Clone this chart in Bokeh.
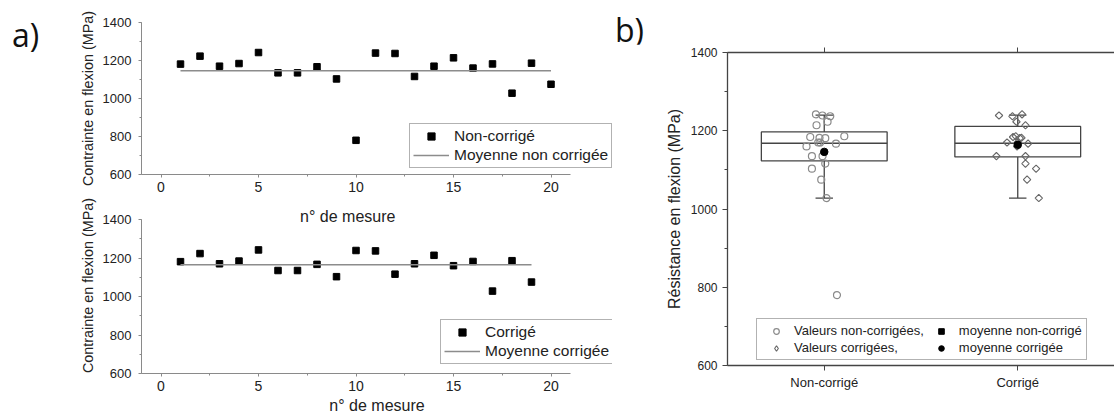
from bokeh.plotting import figure
from bokeh.models import (Label, Legend, LegendItem, LinearAxis, SingleIntervalTicker,
                          FixedTicker, Range1d, Div)
from bokeh.layouts import row, column
from bokeh.embed import file_html
from bokeh.resources import INLINE

FONT = "Liberation Sans"
TXT = "#222222"

# ---------------- data ----------------
mesure_nc = list(range(1, 21))
contrainte_nc = [1181, 1223, 1170, 1184, 1242, 1135, 1135, 1167, 1103, 780,
                 1239, 1237, 1116, 1170, 1214, 1160, 1182, 1028, 1186, 1075]
moyenne_nc = 1146

mesure_c = list(range(1, 20))
contrainte_c = [1181, 1223, 1170, 1184, 1242, 1135, 1135, 1167, 1103,
                1239, 1237, 1116, 1170, 1214, 1160, 1182, 1028, 1186, 1075]
moyenne_c = 1165

categories = ["Non-corrigé", "Corrigé"]
q1 = [1123, 1133]
mediane = [1168, 1168]
q3 = [1197, 1211]
moust_bas = [1028, 1028]
moust_haut = [1240, 1240]
moyennes = [1146, 1164]

# horizontal scatter offsets of the points in panel b (pixels)
jitter_nc = [1, 3.3, -6, -14, -8.3, -12.3, -1.7, 11.7, -12.3, 12.7,
             -1.7, 6, 1, -4, -7.7, -17.7, -4.7, 2.3, 20, -3]
jitter_c = [2, -1.3, -10.7, -4.7, 4.3, -21.3, 7.7, 10.3, 18.3,
            -18.7, -5.3, 7.7, 0, 7.7, -0.7, 3.7, 21, -2, 9.3]
PX_PER_CAT = 193.0

# ---------------- layout geometry (pixels) ----------------
DIV_W = 50
LEFT_W = 562            # left figures canvas width (x 50..612)
FRAME_L = 91            # left border -> frame left at x=141
PX_PER_X = 19.5         # pixels per measurement number
X_END = 21 + (LEFT_W - FRAME_L - 22 * PX_PER_X) / PX_PER_X
B_DIV_H = 44            # height of the "b)" strip above panel b


def style_axis(ax, line="#8a8a8a", tick_size="13px"):
    ax.axis_line_color = line
    ax.major_tick_line_color = line
    ax.minor_tick_line_color = line
    ax.major_tick_out = 3
    ax.major_tick_in = 0
    ax.minor_tick_out = 2
    ax.minor_tick_in = 0
    ax.major_label_text_font = FONT
    ax.major_label_text_font_size = tick_size
    ax.major_label_text_color = TXT
    ax.axis_label_text_font = FONT
    ax.axis_label_text_font_style = "normal"
    ax.axis_label_text_color = TXT


def left_panel(xs, ys, mean, lab_pts, lab_mean, height, bt, bb, y_end, leg_loc, xlabel):
    p = figure(width=LEFT_W, height=height, x_range=Range1d(-1, X_END),
               y_range=Range1d(600, y_end),
               output_backend="svg", toolbar_location=None,
               min_border_left=FRAME_L, min_border_right=0,
               min_border_top=bt, min_border_bottom=bb)
    p.grid.visible = False
    p.outline_line_color = None
    p.xaxis.ticker = SingleIntervalTicker(interval=5, num_minor_ticks=2)
    p.yaxis.ticker = SingleIntervalTicker(interval=200, num_minor_ticks=2)
    p.xaxis.bounds = (-1, 21)
    p.yaxis.bounds = (600, 1400)
    style_axis(p.xaxis[0], tick_size="14px")
    style_axis(p.yaxis[0], tick_size="13px")
    p.xaxis.major_label_standoff = 4
    p.yaxis.major_label_standoff = 7
    p.yaxis.axis_label = "Contrainte en flexion (MPa)"
    p.yaxis.axis_label_text_font_size = "14.4px"
    p.yaxis.axis_label_standoff = 4
    if xlabel:
        p.xaxis.axis_label = xlabel
        p.xaxis.axis_label_text_font_size = "16px"
        p.xaxis.axis_label_standoff = 3
    r_pts = p.scatter(xs, ys, marker="square", size=6.5, color="black")
    r_mean = p.line([xs[0], xs[-1]], [mean, mean], line_color="#8c8c8c", line_width=1.3)
    leg = Legend(items=[LegendItem(label=lab_pts, renderers=[r_pts]),
                        LegendItem(label=lab_mean, renderers=[r_mean])],
                 location=leg_loc, padding=3, spacing=1, margin=0,
                 glyph_width=36, glyph_height=18, label_height=18, label_standoff=5,
                 label_text_font=FONT, label_text_font_size="15.5px", label_text_color=TXT,
                 border_line_color="#666666", border_line_width=1,
                 background_fill_color="white", background_fill_alpha=1)
    p.add_layout(leg)
    return p


# top panel: canvas y 0..197, frame y 22..174
top = left_panel(mesure_nc, contrainte_nc, moyenne_nc, "Non-corrigé", "Moyenne non corrigée",
                 197, 22, 23, 1400, (268, 6), None)

# bottom panel: canvas y 197..419, axis 600..1400 on y 373..219, frame reaches canvas top
Y_END_B = 1400 + (219 - 197) * 800 / 154
bottom = left_panel(mesure_c, contrainte_c, moyenne_c, "Corrigé", "Moyenne corrigée",
                    222, 0, 46, Y_END_B, (299, 9), "n° de mesure")
# x-axis title of the top panel (falls inside the bottom canvas)
bottom.add_layout(Label(x=(LEFT_W - FRAME_L) / 2 - 1.5 * PX_PER_X, y=157,
                        x_units="screen", y_units="screen", text="n° de mesure",
                        text_font=FONT, text_font_size="16px", text_color=TXT,
                        text_align="center", text_baseline="alphabetic"))

div_a = Div(text='<div style="font-family:\'Open Sans\';font-size:32px;line-height:32px;'
                 'padding:19px 0 0 12px;color:#111111;">a)</div>',
            width=DIV_W, height=419, margin=0)
div_b = Div(text='<div style="font-family:\'Open Sans\';font-size:32px;line-height:32px;'
                 'padding:14px 0 0 3px;color:#111111;">b)</div>',
            width=502, height=B_DIV_H, margin=0, styles={"overflow": "visible"})

# ---------------- panel b ----------------
pos = [i + 1 for i in range(len(categories))]
half = 0.325
cap = 0.045
rb = figure(width=502, height=419 - B_DIV_H, x_range=Range1d(0.5, 2.5),
            y_range=Range1d(600, 1400),
            output_backend="svg", toolbar_location=None,
            min_border_left=115, min_border_right=0, min_border_top=52 - B_DIV_H,
            min_border_bottom=54)
rb.grid.visible = False
rb.outline_line_color = None
rb.xaxis.ticker = FixedTicker(ticks=pos)
rb.xaxis.major_label_overrides = {p_: c for p_, c in zip(pos, categories)}
rb.yaxis.ticker = SingleIntervalTicker(interval=200, num_minor_ticks=2)
style_axis(rb.xaxis[0], line="#444444", tick_size="13px")
style_axis(rb.yaxis[0], line="#444444", tick_size="12px")
for ax in (rb.xaxis[0], rb.yaxis[0]):
    ax.major_tick_out = 5
    ax.minor_tick_out = 3
    ax.axis_line_width = 1.3
rb.xaxis.major_label_standoff = 4
rb.yaxis.major_label_standoff = 5
rb.yaxis.axis_label = "Résistance en flexion (MPa)"
rb.yaxis.axis_label_text_font_size = "16px"
rb.yaxis.axis_label_standoff = 5

top_ax = LinearAxis(ticker=FixedTicker(ticks=pos), major_label_overrides={1: "", 2: ""},
                    axis_line_color="#444444", axis_line_width=1.3, major_label_standoff=0,
                    major_tick_line_color="#444444", major_tick_out=5, major_tick_in=0)
rb.add_layout(top_ax, "above")

BOX = "#444444"
rb.quad(left=[x - half for x in pos], right=[x + half for x in pos], bottom=q1, top=q3,
        fill_color=None, line_color=BOX, line_width=1.3)
rb.segment(x0=[x - half for x in pos], x1=[x + half for x in pos], y0=mediane, y1=mediane,
           line_color=BOX, line_width=1.3)
rb.segment(x0=pos, x1=pos, y0=q1, y1=moust_bas, line_color=BOX, line_width=1.3)
rb.segment(x0=pos, x1=pos, y0=q3, y1=moust_haut, line_color=BOX, line_width=1.3)
rb.segment(x0=[x - cap for x in pos], x1=[x + cap for x in pos], y0=moust_bas, y1=moust_bas,
           line_color=BOX, line_width=1.3)
rb.segment(x0=[x - cap for x in pos], x1=[x + cap for x in pos], y0=moust_haut, y1=moust_haut,
           line_color=BOX, line_width=1.3)

xs_nc = [pos[0] + j / PX_PER_CAT for j in jitter_nc]
xs_c = [pos[1] + j / PX_PER_CAT for j in jitter_c]
r_nc = rb.scatter(xs_nc, contrainte_nc, marker="circle",
                  size=7, fill_color=None, line_color="#8a8a8a", line_width=1.2)
rb.scatter(xs_c, contrainte_c, marker="square", angle=0.785398, size=5.2,
           fill_color=None, line_color="#666666", line_width=1.1)
rb.scatter([pos[0]], [moyennes[0]], marker="circle", size=7.5, color="black")
rb.scatter([pos[1]], [moyennes[1]], marker="circle", size=7.5, color="black")
# zero-size twins that only provide the legend symbols
lg_c = rb.scatter(xs_c[:1], contrainte_c[:1], marker="diamond", size=0,
                  fill_color=None, line_color="#666666", line_width=1.1)
lg_m_nc = rb.scatter([pos[0]], [moyennes[0]], marker="square", size=0, color="black")
lg_m_c = rb.scatter([pos[1]], [moyennes[1]], marker="circle", size=0, color="black")

leg_b = Legend(items=[LegendItem(label="Valeurs non-corrigées,", renderers=[r_nc]),
                      LegendItem(label="moyenne non-corrigé", renderers=[lg_m_nc]),
                      LegendItem(label="Valeurs corrigées,", renderers=[lg_c]),
                      LegendItem(label="moyenne corrigée", renderers=[lg_m_c])],
               location=(29, 5), orientation="horizontal", nrows=2,
               padding=4, spacing=2, margin=0,
               glyph_width=30, glyph_height=14, label_height=13, label_standoff=3,
               label_text_font=FONT, label_text_font_size="13px", label_text_color=TXT,
               border_line_color="#666666", border_line_width=1,
               background_fill_color="white", background_fill_alpha=1)
rb.add_layout(leg_b)

layout = row(div_a, column(top, bottom), column(div_b, rb))
open("out.html", "w").write(file_html(layout, INLINE))
